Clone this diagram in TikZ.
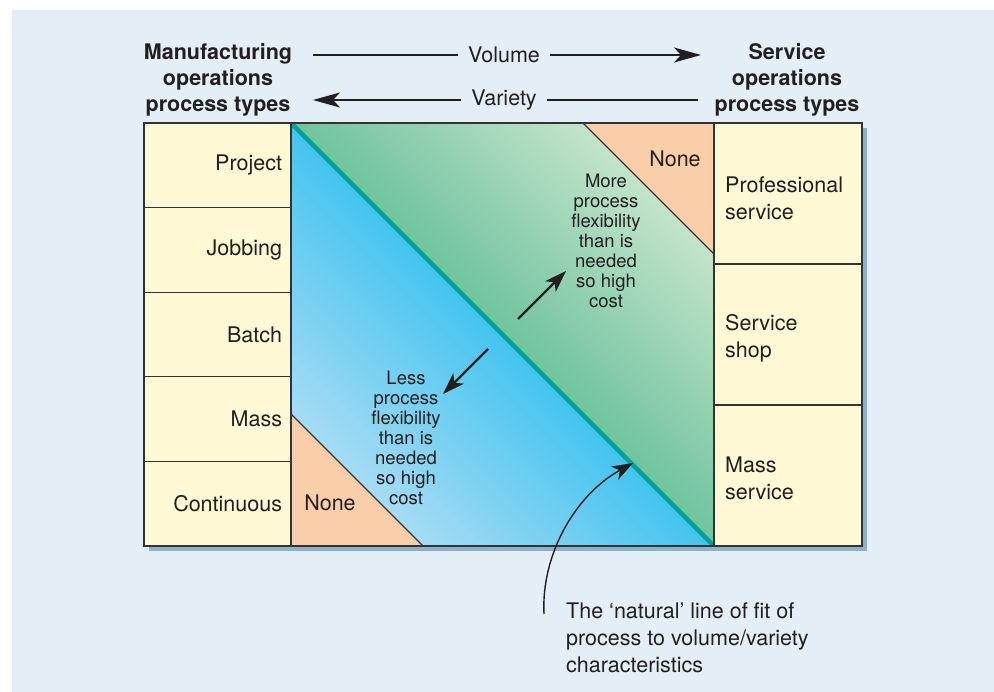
\documentclass[tikz,border=0pt]{standalone}
\usepackage{fontspec}
\setmainfont{TeX Gyre Heros}
\usetikzlibrary{arrows.meta}
\definecolor{bgc}{HTML}{E3EEF6}
\definecolor{shadowc}{HTML}{8FB0C9}
\definecolor{cellc}{HTML}{FFF9D6}
\definecolor{edgec}{HTML}{333333}
\definecolor{txtc}{HTML}{231F20}
\definecolor{gdark}{HTML}{70C39E}
\definecolor{glight}{HTML}{C6E5CC}
\definecolor{bdark}{HTML}{45C4EF}
\definecolor{blight}{HTML}{A9DCF3}
\definecolor{peach}{HTML}{FBCEAA}
\definecolor{tealc}{HTML}{00A19B}
\begin{document}
\begin{tikzpicture}[x=1bp,y=-1bp,
  font={\fontsize{21.5bp}{26bp}\selectfont}, text=txtc,
  lcell/.style={draw=edgec, line width=1.3bp, fill=cellc, minimum width=147bp,
    minimum height=84.6bp, text width=129bp, inner xsep=9bp, inner ysep=0bp, align=right},
  rcell/.style={draw=edgec, line width=1.3bp, fill=cellc, minimum width=148bp,
    minimum height=141bp, text width=126bp, inner xsep=11bp, inner ysep=0bp, align=left,
    font={\fontsize{21.5bp}{27bp}\selectfont}},
  hdr/.style={align=center, font={\fontsize{21.5bp}{26bp}\selectfont\bfseries}},
  flow/.style={inner xsep=10bp},
  hline/.style={line width=2bp, draw=txtc},
  bigtip/.style={-{Stealth[length=27bp,width=15bp,inset=7bp]}},
  smallarrow/.style={line width=2.4bp, draw=txtc, -{Stealth[length=22bp,width=15bp,inset=6bp]}},
  difftext/.style={align=center, font={\fontsize{18.5bp}{20bp}\selectfont}},
  celltext/.style={anchor=west, align=left, inner sep=0bp, font={\fontsize{21.5bp}{27bp}\selectfont}},
  nonelabel/.style={inner sep=0bp},
  edgeline/.style={draw=edgec, line width=1.2bp}]
\useasboundingbox (0,0) rectangle (994,692);
% background and shadow
\fill[bgc] (12,10) rectangle (994,692);
\fill[shadowc] (149,128) rectangle (867,551);
% corners of the middle square
\coordinate (A) at (291,123);
\coordinate (B) at (714,123);
\coordinate (C) at (714,546);
\coordinate (D) at (291,546);
% green gradient (upper triangle)
\foreach \i in {0,...,40}{
  \pgfmathsetmacro\t{0.7*\i/40}
  \pgfmathsetmacro\p{100-2.5*\i}
  \fill[gdark!\p!glight] ({291+423*\t},123) -- (714,123) -- (714,{546-423*\t}) -- cycle;
}
% blue gradient (lower triangle)
\foreach \i in {0,...,40}{
  \pgfmathsetmacro\t{0.7*\i/40}
  \pgfmathsetmacro\p{100-2.5*\i}
  \fill[bdark!\p!blight] (291,{123+423*\t}) -- (291,546) -- ({714-423*\t},546) -- cycle;
}
% None triangles
\coordinate (n1a) at (583,123);
\coordinate (n1b) at (714,254);
\coordinate (n2a) at (291,414);
\coordinate (n2b) at (423,546);
\fill[peach] (n1a) -- (B) -- (n1b) -- cycle;
\draw[edgeline] (n1a) -- (n1b);
\fill[peach] (n2a) -- (D) -- (n2b) -- cycle;
\draw[edgeline] (n2a) -- (n2b);
% natural line of fit
\begin{scope}
  \clip (A) rectangle (C);
  \draw[tealc, line width=4.5bp] (A) -- (C);
\end{scope}
\node[draw=edgec, line width=1.3bp, minimum width=423bp, minimum height=423bp, inner sep=0bp] (mid) at (502.5,334.5) {};
% left column
\node[lcell] (project) at (217.5,165.3) {Project};
\node[lcell] (jobbing) at (217.5,249.9) {Jobbing};
\node[lcell] (batch) at (217.5,334.5) {Batch};
\node[lcell] (mass) at (217.5,419.1) {Mass};
\node[lcell] (continuous) at (217.5,503.7) {Continuous};
% right column
\node[rcell] (prof) at (788,193.5) {};
\node[rcell] (shop) at (788,334.5) {};
\node[rcell] (massserv) at (788,475.5) {};
\node[celltext] (proft) at (725,198) {Professional\\service};
\node[celltext] (shopt) at (725,338) {Service\\shop};
\node[celltext] (masst) at (725,478) {Mass\\service};
% None labels
\node[nonelabel] (none1) at (675,159) {None};
\node[nonelabel] (none2) at (330,503) {None};
% headers
\node[hdr] (mfg) at (218,80) {Manufacturing\\operations\\process types};
\node[hdr] (serv) at (787,80) {Service\\operations\\process types};
% volume / variety arrows
\node[flow] (vol) at (504,55) {Volume};
\node[flow] (var) at (504,100) {Variety};
\coordinate (volstart) at (313,55);
\coordinate (volend) at (701,55);
\coordinate (varend) at (313,100);
\coordinate (varstart) at (698,100);
\draw[hline] (volstart) -- (vol.west);
\draw[hline, bigtip] (vol.east) -- (volend);
\draw[hline] (varstart) -- (var.east);
\draw[hline, bigtip] (var.west) -- (varend);
% flexibility texts
\node[difftext] (more) at (606,241) {More\\process\\flexibility\\than is\\needed\\so high\\cost};
\node[difftext] (less) at (406,438) {Less\\process\\flexibility\\than is\\needed\\so high\\cost};
\coordinate (upt) at (518,319);
\coordinate (uph) at (566,271);
\coordinate (lot) at (488,349);
\coordinate (loh) at (443,394);
\draw[smallarrow] (upt) -- (uph);
\draw[smallarrow] (lot) -- (loh);
% natural line annotation
\node[anchor=west, align=left, inner sep=0bp, font={\fontsize{21.5bp}{27bp}\selectfont}] (natural) at (566,638)
  {The ‘natural’ line of fit of\\process to volume/variety\\characteristics};
\coordinate (cs) at (544,614);
\coordinate (ce) at (633,463);
\draw[line width=1.4bp, draw=txtc, -{Stealth[length=21bp,width=15bp,inset=6bp]}]
  (cs) .. controls (541,555) and (575,495) .. (ce);
\end{tikzpicture}
\end{document}
